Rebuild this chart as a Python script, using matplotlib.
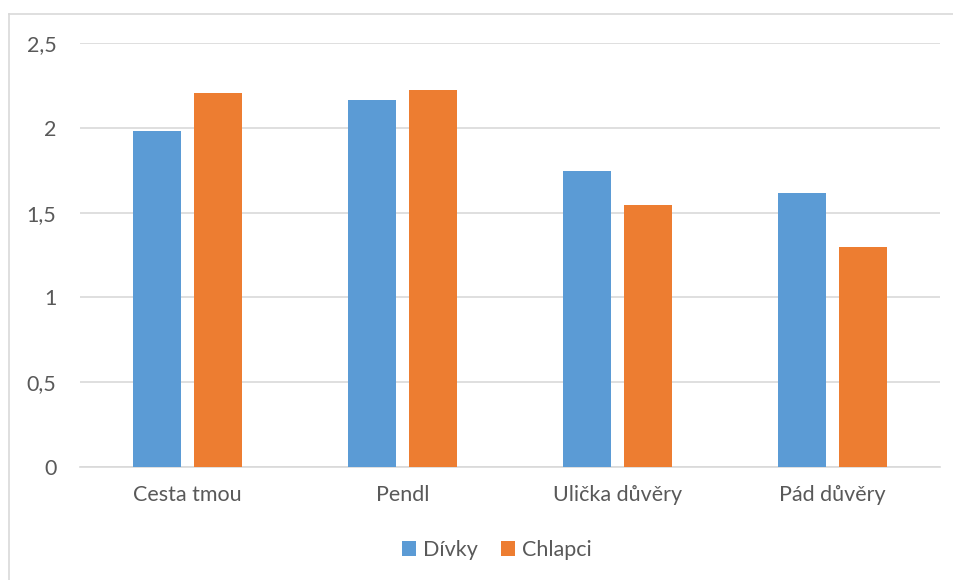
import matplotlib.pyplot as plt
import numpy as np
from matplotlib.lines import Line2D

categories = ['Cesta tmou', 'Pendl', 'Ulička důvěry', 'Pád důvěry']
divky = [1.98, 2.165, 1.745, 1.615]
chlapci = [2.205, 2.225, 1.545, 1.30]
yticks = [0, 0.5, 1, 1.5, 2, 2.5]
ytick_labels = ['0', '0,5', '1', '1,5', '2', '2,5']

plt.rcParams['font.family'] = ['Lato', 'DejaVu Sans']
text_color = '#595959'

fig = plt.figure(figsize=(9.54, 5.8), dpi=100)
W, H = 954, 580
ax = fig.add_axes([80 / W, 1 - 467 / H, 860 / W, 424 / H])

x = np.arange(len(categories))
bw = 0.223
gap = 0.06
ax.bar(x - (bw + gap) / 2, divky, bw, color='#5b9bd5', label='Dívky', zorder=3)
ax.bar(x + (bw + gap) / 2, chlapci, bw, color='#ed7d31', label='Chlapci', zorder=3)

ax.set_xlim(-0.5, len(categories) - 0.5)
ax.set_ylim(0, 2.5)
ax.set_yticks(yticks)
ax.set_yticklabels(ytick_labels)
ax.set_xticks(x)
ax.set_xticklabels(categories)
ax.yaxis.grid(True, color='#d9d9d9', linewidth=1.2, zorder=0)
for s in ['top', 'right', 'left']:
    ax.spines[s].set_visible(False)
ax.spines['bottom'].set_color('#d9d9d9')
ax.spines['bottom'].set_linewidth(1.2)
ax.tick_params(axis='both', length=0, labelsize=15.5, colors=text_color)
ax.tick_params(axis='y', pad=17)
ax.tick_params(axis='x', pad=13)

# chart border (cropped at right and bottom)
fig.add_artist(Line2D([9 / W, 9 / W], [0, 1 - 14 / H], transform=fig.transFigure,
                      color='#d9d9d9', linewidth=1.2))
fig.add_artist(Line2D([9 / W, 1], [1 - 14 / H, 1 - 14 / H], transform=fig.transFigure,
                      color='#d9d9d9', linewidth=1.2))

fig.legend(loc='center', bbox_to_anchor=(497 / W, 1 - 550 / H), ncol=2, frameon=False,
           fontsize=15.5, labelcolor=text_color, handlelength=0.65, handleheight=0.65,
           handletextpad=0.3, columnspacing=1.1)

fig.savefig('out.png', dpi=100, facecolor='white')
